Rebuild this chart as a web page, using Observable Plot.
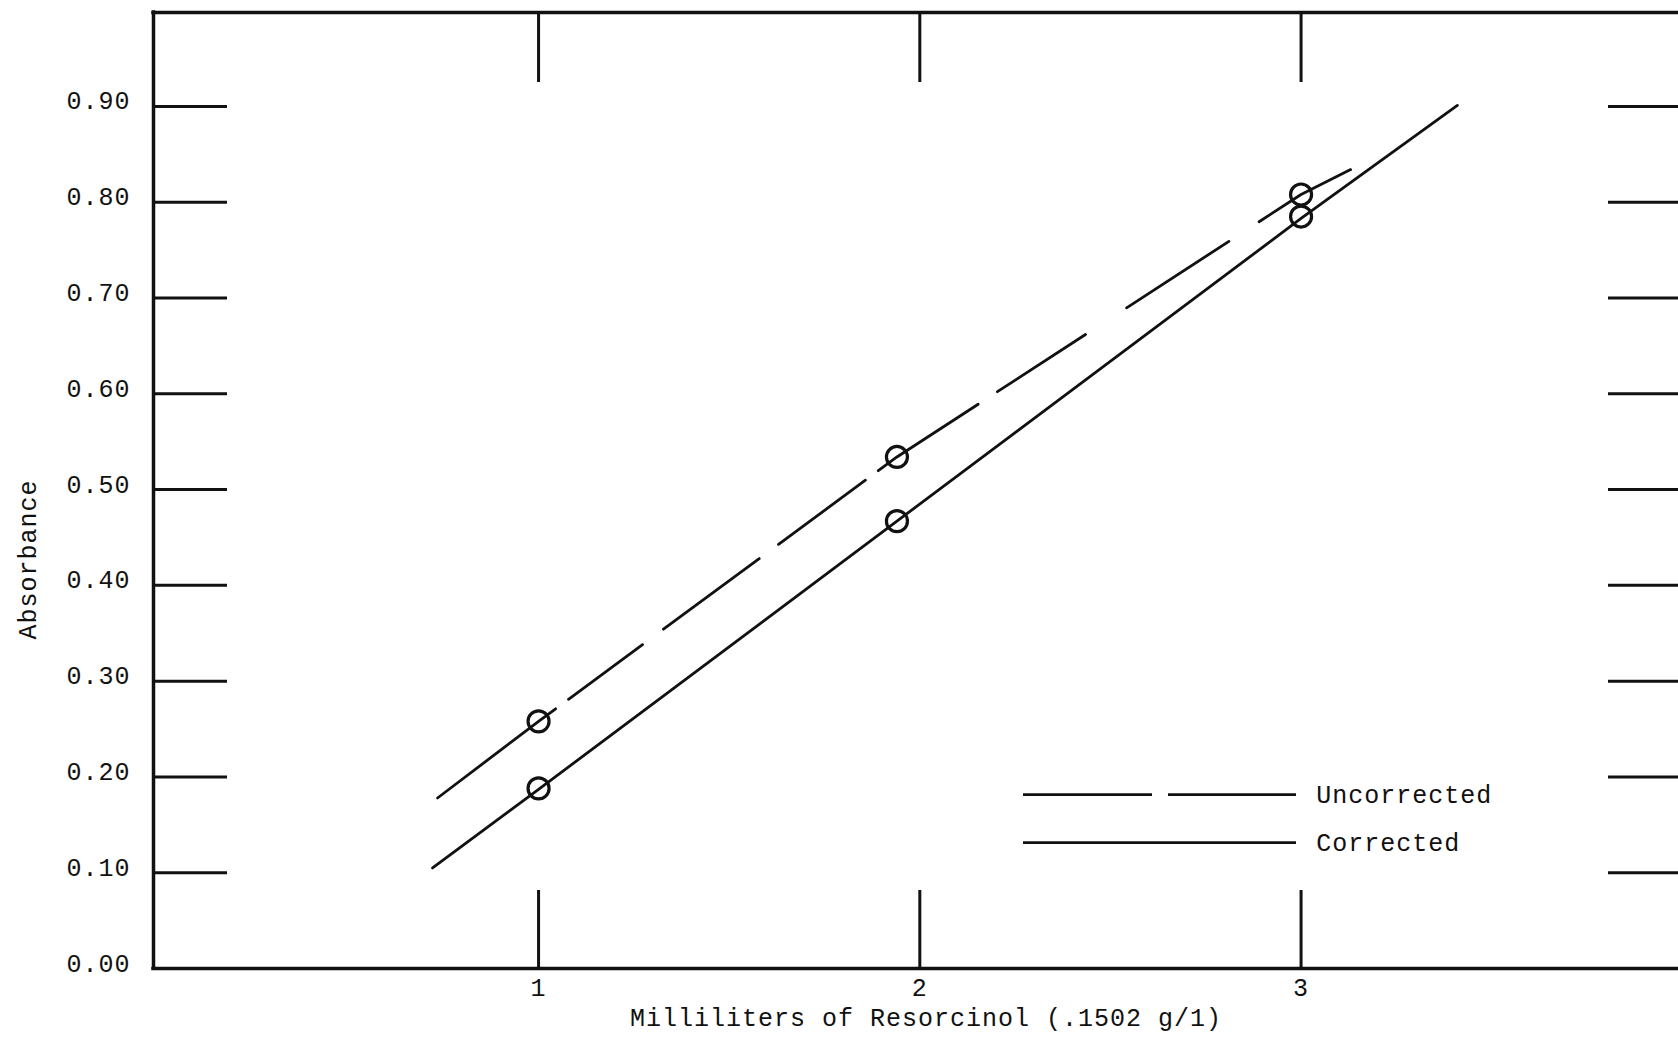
<!DOCTYPE html>
<html>
<head>
<meta charset="utf-8">
<script src="https://cdn.jsdelivr.net/npm/d3@7"></script>
<script src="https://cdn.jsdelivr.net/npm/@observablehq/plot@0.6"></script>
<style>
  html, body { margin: 0; padding: 0; background: #fff; overflow: hidden; }
  #chart svg { display: block; }
  #chart svg text { letter-spacing: 1px; }
</style>
</head>
<body>
<div id="chart"></div>
<script>
// ---- Data ----
const xTicks = [1, 2, 3];
const xTickLabels = ["1", "2", "3"];
const yTicks = [0, 0.1, 0.2, 0.3, 0.4, 0.5, 0.6, 0.7, 0.8, 0.9];
const yTickLabels = ["0.00", "0.10", "0.20", "0.30", "0.40", "0.50", "0.60", "0.70", "0.80", "0.90"];
const seriesNames = ["Uncorrected", "Corrected"];

// measured points (circles)
const xPoints = [1, 1.94, 3];
const uncorrectedValues = [0.258, 0.534, 0.808];
const correctedValues = [0.188, 0.467, 0.785];

// hand-drawn lines through the points
const uncorrectedLineX = [0.735, 1, 1.94, 3, 3.13];
const uncorrectedLineY = [0.178, 0.258, 0.534, 0.808, 0.834];
const correctedLineX = [0.722, 1, 1.94, 3, 3.41];
const correctedLineY = [0.105, 0.187, 0.467, 0.783, 0.901];

const xLabel = "Milliliters of Resorcinol (.1502 g/1)";
const yLabel = "Absorbance";

// ---- Layout / style ----
const W = 1678, H = 1040;
const mL = 153, mR = 0, mT = 12, mB = 72;
const plotW = W - mL - mR, plotH = H - mT - mB;
const xDomain = [-0.01, 3.99];
const yDomain = [0, 0.998];
const ink = "#111";
const font = "'Liberation Mono', 'Courier New', 'DejaVu Sans Mono', monospace";
const uncorrectedDash = "148,16,92,26,119,24,108,16,120,23,105,49,122,36,300";
const legendPos = {x1: 2.272, x2: 2.988, textX: 3.04, y: [0.1816, 0.1315]};
const legendDash = "129,16,400";
const yLabelPos = {y: 0.427, dx: -126};

const pts = [];
xPoints.forEach((x, i) => {
  pts.push({x, y: uncorrectedValues[i], s: seriesNames[0]});
  pts.push({x, y: correctedValues[i], s: seriesNames[1]});
});
const uLine = uncorrectedLineX.map((x, i) => ({x, y: uncorrectedLineY[i]}));
const cLine = correctedLineX.map((x, i) => ({x, y: correctedLineY[i]}));
const innerYTicks = yTicks.filter(d => d > 0);

const chart = Plot.plot({
  width: W, height: H,
  marginLeft: mL, marginRight: mR, marginTop: mT, marginBottom: mB,
  x: {domain: xDomain},
  y: {domain: yDomain},
  style: {fontFamily: font, fontSize: "25px", color: ink, background: "#fff", overflow: "visible"},
  marks: [
    // frame (left, top, bottom)
    Plot.ruleX([xDomain[0]], {stroke: ink, strokeWidth: 3.5, strokeLinecap: "square"}),
    Plot.ruleY([yDomain[0], yDomain[1]], {stroke: ink, strokeWidth: 3.5, strokeLinecap: "square"}),
    // inward ticks
    Plot.tickY(innerYTicks, {y: d => d, insetRight: plotW - 74, stroke: ink, strokeWidth: 3}),
    Plot.tickY(innerYTicks, {y: d => d, insetLeft: plotW - 70, stroke: ink, strokeWidth: 3}),
    Plot.tickX(xTicks, {x: d => d, insetBottom: plotH - 70, stroke: ink, strokeWidth: 3}),
    Plot.tickX(xTicks, {x: d => d, insetTop: plotH - 78, stroke: ink, strokeWidth: 3}),
    // axes labels
    Plot.axisY(yTicks, {tickSize: 0, tickPadding: 23, dy: -5, label: null,
      tickFormat: d => yTickLabels[yTicks.indexOf(d)]}),
    Plot.axisX(xTicks, {tickSize: 0, tickPadding: 10, label: null,
      tickFormat: d => xTickLabels[xTicks.indexOf(d)]}),
    Plot.text([xLabel], {frameAnchor: "bottom", dx: 10, dy: 57, lineAnchor: "bottom", fill: ink}),
    Plot.text([yLabel], {x: xDomain[0], y: yLabelPos.y, dx: yLabelPos.dx, rotate: -90, fill: ink}),
    // lines
    Plot.line(cLine, {x: "x", y: "y", stroke: ink, strokeWidth: 2.8}),
    Plot.line(uLine, {x: "x", y: "y", stroke: ink, strokeWidth: 2.8, strokeDasharray: uncorrectedDash}),
    // points
    Plot.dot(pts, {x: "x", y: "y", r: 10.5, stroke: ink, strokeWidth: 3.2, fill: "none"}),
    // legend
    Plot.ruleY([seriesNames[0]], {y: () => legendPos.y[0], x1: legendPos.x1, x2: legendPos.x2,
      stroke: ink, strokeWidth: 2.8, strokeDasharray: legendDash}),
    Plot.ruleY([seriesNames[1]], {y: () => legendPos.y[1], x1: legendPos.x1, x2: legendPos.x2,
      stroke: ink, strokeWidth: 2.8}),
    Plot.text(seriesNames, {x: legendPos.textX, y: (d, i) => legendPos.y[i], text: d => d,
      textAnchor: "start", fill: ink})
  ]
});
document.getElementById("chart").appendChild(chart);
</script>
</body>
</html>
